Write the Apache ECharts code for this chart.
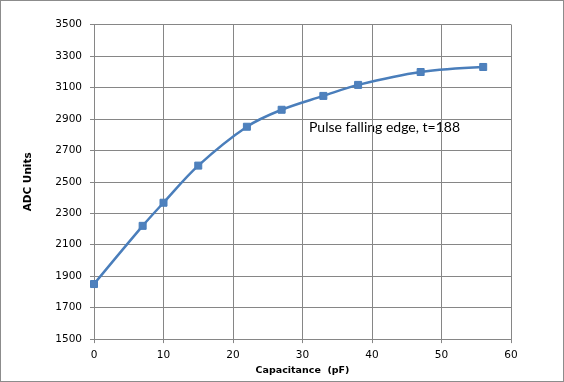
<!DOCTYPE html>
<html>
<head>
<meta charset="utf-8">
<script src="https://cdn.jsdelivr.net/npm/echarts@6/dist/echarts.min.js"></script>
<style>
html,body{margin:0;padding:0;background:#fff;}
#wrap{position:absolute;left:0;top:0;width:562px;height:380px;border:1px solid #8c8c8c;}
#c{width:562px;height:380px;}
</style>
</head>
<body>
<div id="wrap"><div id="c"></div></div>
<script>
const capacitance = [0, 7, 10, 15, 22, 27, 33, 38, 47, 56];
const adcUnits = [1850, 2220, 2367, 2603, 2850, 2958, 3046, 3116, 3198, 3230];
const annotationText = 'Pulse falling edge, t=188';
const xName = 'Capacitance  (pF)';
const yName = 'ADC Units';

const chart = echarts.init(document.getElementById('c'), null, {renderer: 'canvas'});
const gridColor = '#868686';
chart.setOption({
  animation: false,
  grid: {left: 93, right: 52, top: 23.5, bottom: 39.7},
  xAxis: {
    type: 'value', min: 0, max: 60, interval: 10,
    name: xName, nameLocation: 'middle', nameGap: 25,
    nameTextStyle: {fontFamily: 'DejaVu Sans', fontWeight: 'bold', fontSize: 9.5, color: '#000'},
    axisLine: {show: true, lineStyle: {color: gridColor, width: 1}},
    axisTick: {show: true, length: 4, lineStyle: {color: gridColor}},
    axisLabel: {fontFamily: 'DejaVu Sans', fontSize: 10.5, color: '#000', margin: 11, formatter: v => String(v)},
    splitLine: {show: true, lineStyle: {color: gridColor, width: 1}}
  },
  yAxis: {
    type: 'value', min: 1500, max: 3500, interval: 200,
    name: yName, nameLocation: 'middle', nameGap: 60, nameRotate: 90,
    nameTextStyle: {fontFamily: 'DejaVu Sans', fontWeight: 'bold', fontSize: 10.5, color: '#000'},
    axisLine: {show: true, lineStyle: {color: gridColor, width: 1}},
    axisTick: {show: true, length: 4, lineStyle: {color: gridColor}},
    axisLabel: {fontFamily: 'DejaVu Sans', fontSize: 10.5, color: '#000', margin: 12, formatter: v => String(v)},
    splitLine: {show: true, lineStyle: {color: gridColor, width: 1}}
  },
  series: [{
    type: 'line',
    data: capacitance.map((c, i) => [c, adcUnits[i]]),
    smooth: 0.35,
    symbol: 'rect', symbolSize: 7,
    lineStyle: {color: '#4A7EBB', width: 2.5},
    itemStyle: {color: '#4F81BD', borderColor: '#4A7EBB', borderWidth: 1}
  }],
  graphic: [{
    type: 'text', left: 308, top: 119,
    style: {text: annotationText, fontFamily: 'Lato', fontSize: 14, fill: '#000'}
  }]
});
</script>
</body>
</html>
